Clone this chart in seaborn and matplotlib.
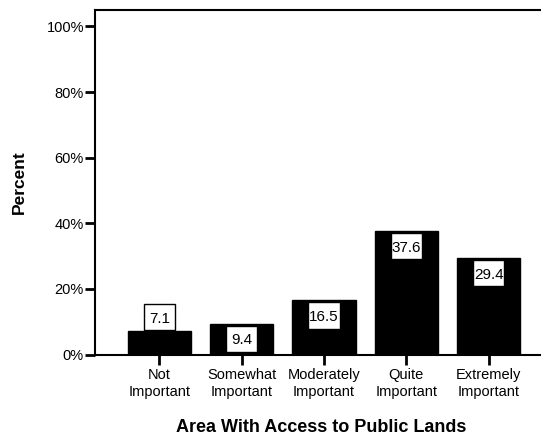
import matplotlib
matplotlib.use('Agg')
import matplotlib.pyplot as plt
from matplotlib.patches import Rectangle
import seaborn as sns
import pandas as pd

# data
categories = ['Not\nImportant', 'Somewhat\nImportant', 'Moderately\nImportant',
              'Quite\nImportant', 'Extremely\nImportant']
percents = [7.1, 9.4, 16.5, 37.6, 29.4]

sns.set_style('white')
plt.rcParams['font.family'] = ['Liberation Sans', 'DejaVu Sans']
plt.rcParams['text.color'] = 'black'
plt.rcParams['axes.labelcolor'] = 'black'

df = pd.DataFrame({'cat': categories, 'pct': percents})

fig = plt.figure(figsize=(5.41, 4.38), dpi=100)
ax = fig.add_axes([95 / 541, 1 - 354.5 / 438, 1 - 95 / 541 + 0.01, 344.5 / 438])

sns.barplot(data=df, x='cat', y='pct', color='black', width=0.77,
            edgecolor='black', linewidth=1, saturation=1, ax=ax)

# value labels in white boxes
box_w, box_h = 0.38, 8.0
for i, v in enumerate(percents):
    if v < 8:
        bottom = v + 0.3
    else:
        bottom = v - 0.6 - box_h
    ax.add_patch(Rectangle((i - box_w / 2, bottom), box_w, box_h,
                           facecolor='white', edgecolor='black', lw=1, zorder=4))
    ax.text(i, bottom + box_h / 2, f'{v:.1f}', ha='center', va='center_baseline',
            fontsize=11, color='black', zorder=5)

ax.set_xlim(-0.78, 4.7)
ax.set_ylim(0, 105)
ax.set_yticks([0, 20, 40, 60, 80, 100])
ax.set_yticklabels([f'{t}%' for t in [0, 20, 40, 60, 80, 100]])

for side in ['left', 'bottom', 'top']:
    ax.spines[side].set_linewidth(1.5)
    ax.spines[side].set_color('black')
ax.spines['right'].set_visible(False)

ax.tick_params(axis='both', direction='out', length=7, width=2, colors='black',
               labelsize=10.5, left=True, bottom=True)
ax.tick_params(axis='x', pad=3)
ax.tick_params(axis='y', pad=1)

ax.set_ylabel('Percent', fontsize=12.5, fontweight='bold', labelpad=14)
ax.set_xlabel('Area With Access to Public Lands', fontsize=13,
              fontweight='bold', labelpad=15)

fig.savefig('out.png', dpi=100)
